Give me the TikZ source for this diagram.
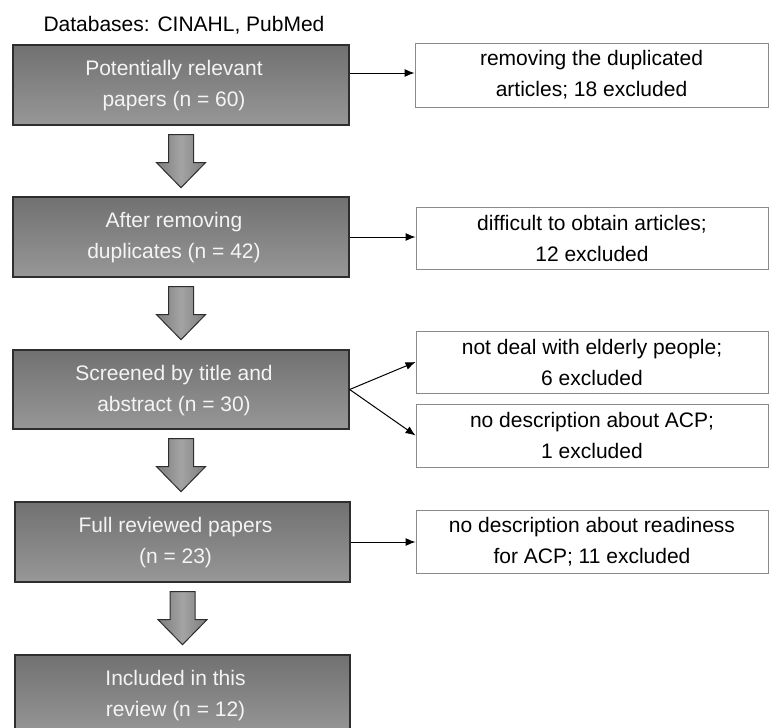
\documentclass[tikz,border=0pt]{standalone}
\usepackage{fontspec}
\setmainfont{Liberation Sans}
\usetikzlibrary{arrows.meta,calc}
\definecolor{gtop}{HTML}{717171}
\definecolor{gbot}{HTML}{979797}
\definecolor{aside}{HTML}{7C7C7C}
\definecolor{amid}{HTML}{A4A4A4}
\definecolor{gedge}{HTML}{2E2E2E}
\definecolor{wedge}{HTML}{8A8A8A}
\definecolor{gtext}{HTML}{F4F4F4}
\newcommand\blockarrow[1]{%
  \path[barrow] ($(#1)+(-12.5,9)$) -- ++(25,0) -- ++(0,28) -- ++(12,0)
    -- ++(-24.5,25) -- ++(-24.5,-25) -- ++(12,0) -- cycle;}
\newcommand\gtwo[2]{\hspace*{-14pt}\begin{tabular}{@{}c@{}}#1\\#2\end{tabular}}
\begin{document}
\begin{tikzpicture}[x=1pt,y=-1pt,
  font=\fontsize{21}{31}\selectfont,
  gbox/.style={draw=gedge, line width=1.3pt, top color=gtop, bottom color=gbot,
    text=gtext, minimum width=336pt, minimum height=80pt, inner sep=0pt},
  wbox/.style={draw=wedge, line width=0.9pt, fill=white, text=black,
    align=center, minimum width=353pt, inner sep=0pt},
  conn/.style={-{Latex[length=10pt,width=8pt]}, line width=1pt, draw=black},
  barrow/.style={draw=gedge, line width=1pt, left color=aside, right color=aside, middle color=amid}]
\useasboundingbox (0,0) rectangle (769,728);
\clip (0,0) rectangle (769,728);
\fill[white] (0,0) rectangle (769,728);

\node (db) at (184,25) {Databases: CINAHL, PubMed};

\node[gbox] (b1) at (181,85) {\gtwo{Potentially relevant}{papers (n = 60)}};
\node[gbox] (b2) at (181,237) {\gtwo{After removing}{duplicates (n = 42)}};
\node[gbox, minimum height=79pt] (b3) at (181,389.5) {\gtwo{Screened by title and}{abstract (n = 30)}};
\node[gbox, minimum width=335pt] (b4) at (182.5,542) {\gtwo{Full reviewed papers}{(n = 23)}};
\node[gbox, minimum width=335pt] (b5) at (182.5,695) {\gtwo{Included in this}{review (n = 12)}};

\node[wbox, minimum height=64pt] (r1) at (591.5,75) {removing the duplicated\\articles; 18 excluded};
\node[wbox, minimum width=352pt, minimum height=62pt] (r2) at (592,238) {difficult to obtain articles;\\12 excluded};
\node[wbox, minimum width=352pt, minimum height=62pt] (r3a) at (592,362) {not deal with elderly people;\\6 excluded};
\node[wbox, minimum width=352pt, minimum height=63pt] (r3b) at (592,435.5) {no description about ACP;\\1 excluded};
\node[wbox, minimum width=352pt, minimum height=63pt] (r4) at (592,541.5) {no description about readiness\\for ACP; 11 excluded};

\blockarrow{b1.south}
\blockarrow{b2.south}
\blockarrow{b3.south}
\blockarrow{b4.south}

\draw[conn] (b1.east |- 0,73) -- (r1.west |- 0,73);
\draw[conn] (b2.east) -- (r2.west |- b2.east);
\draw[conn] (b3.east) -- (r3a.west);
\draw[conn] (b3.east) -- (r3b.west);
\draw[conn] (b4.east) -- (r4.west |- b4.east);
\end{tikzpicture}
\end{document}
